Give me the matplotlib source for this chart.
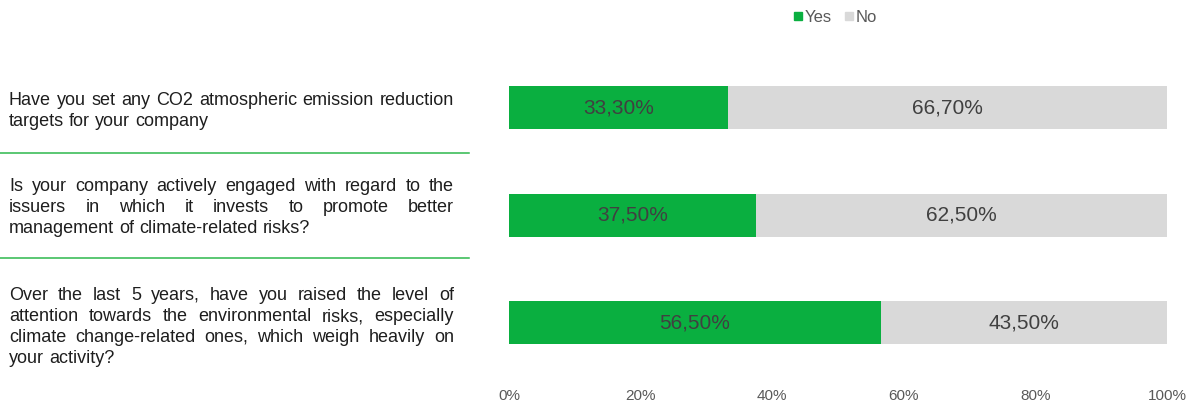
import matplotlib
matplotlib.use("Agg")
import matplotlib.pyplot as plt
from matplotlib.lines import Line2D
from matplotlib.font_manager import FontProperties

# Survey questions, one line per entry (paragraphs are justified)
questions = [
    ["Have you set any CO2 atmospheric emission reduction",
     "targets for your company"],
    ["Is your company actively engaged with regard to the",
     "issuers in which it invests to promote better",
     "management of climate-related risks?"],
    ["Over the last 5 years, have you raised the level of",
     "attention towards the environmental risks, especially",
     "climate change-related ones, which weigh heavily on",
     "your activity?"],
]
series_names = ["Yes", "No"]
yes_values = [33.3, 37.5, 56.5]
no_values = [66.7, 62.5, 43.5]
x_ticks = [0, 20, 40, 60, 80, 100]

GREEN = "#0AAF40"
GREY = "#D9D9D9"
FONT = "Liberation Sans"

W, H = 1195, 405
fig = plt.figure(figsize=(W / 100, H / 100), dpi=100)

# Bar area in pixel terms
left_px, right_px = 509, 1167
row_px = 107.7
center0 = 107.5
top_px = center0 - row_px / 2
bottom_px = top_px + 3 * row_px
ax = fig.add_axes([left_px / W, 1 - bottom_px / H,
                   (right_px - left_px) / W, (bottom_px - top_px) / H])

rows = list(range(len(yes_values)))
ax.barh(rows, yes_values, height=0.40, color=GREEN, label=series_names[0])
ax.barh(rows, no_values, left=yes_values, height=0.40, color=GREY,
        label=series_names[1])

def pct(v):
    return f"{v:.2f}".replace(".", ",") + "%"

for r, y, n in zip(rows, yes_values, no_values):
    ax.text(y / 2, r, pct(y), ha="center", va="center", fontsize=15,
            color="#404040", family=FONT)
    ax.text(y + n / 2, r, pct(n), ha="center", va="center", fontsize=15,
            color="#404040", family=FONT)

ax.set_xlim(0, 100)
ax.set_ylim(2.5, -0.5)
ax.set_xticks(x_ticks)
ax.set_xticklabels([f"{t}%" for t in x_ticks], family=FONT, fontsize=11,
                   color="#595959")
ax.set_yticks([])
ax.tick_params(axis="x", length=0, pad=9)
for s in ax.spines.values():
    s.set_visible(False)

# Legend
handles = [Line2D([], [], marker="s", linestyle="none", markersize=5.5,
                  color=c) for c in (GREEN, GREY)]
fig.legend(handles, series_names, loc="center", bbox_to_anchor=(835 / W, 1 - 17 / H),
           ncol=2, frameon=False, handletextpad=0.1, columnspacing=0.7,
           prop=FontProperties(family=FONT, size=12), labelcolor="#595959",
           handlelength=0.6)

# Justified question text
renderer = fig.canvas.get_renderer()
prop = FontProperties(family=FONT, size=13)
text_left, text_right = 9, 454
baselines = [[105, 126], [191.5, 212.5, 233.5], [300, 321, 342, 363]]

def word_width(w):
    wd, _, _ = renderer.get_text_width_height_descent(w, prop, ismath=False)
    return wd

space_w = word_width("a b") - word_width("ab")
for lines, ys in zip(questions, baselines):
    for i, (line, yb) in enumerate(zip(lines, ys)):
        words = line.split()
        widths = [word_width(w) for w in words]
        last = i == len(lines) - 1
        if last or len(words) == 1:
            gap = space_w
        else:
            gap = (text_right - text_left - sum(widths)) / (len(words) - 1)
        x = text_left
        for w, wd in zip(words, widths):
            fig.text(x / W, 1 - yb / H, w, fontproperties=prop,
                     color="#1E1E1E", ha="left", va="baseline")
            x += wd + gap

# Separators between questions
for yp in (153, 258):
    fig.add_artist(Line2D([0, 469 / W], [1 - yp / H, 1 - yp / H],
                          color="#2DB84D", linewidth=1.1))

fig.savefig("out.png", dpi=100)
